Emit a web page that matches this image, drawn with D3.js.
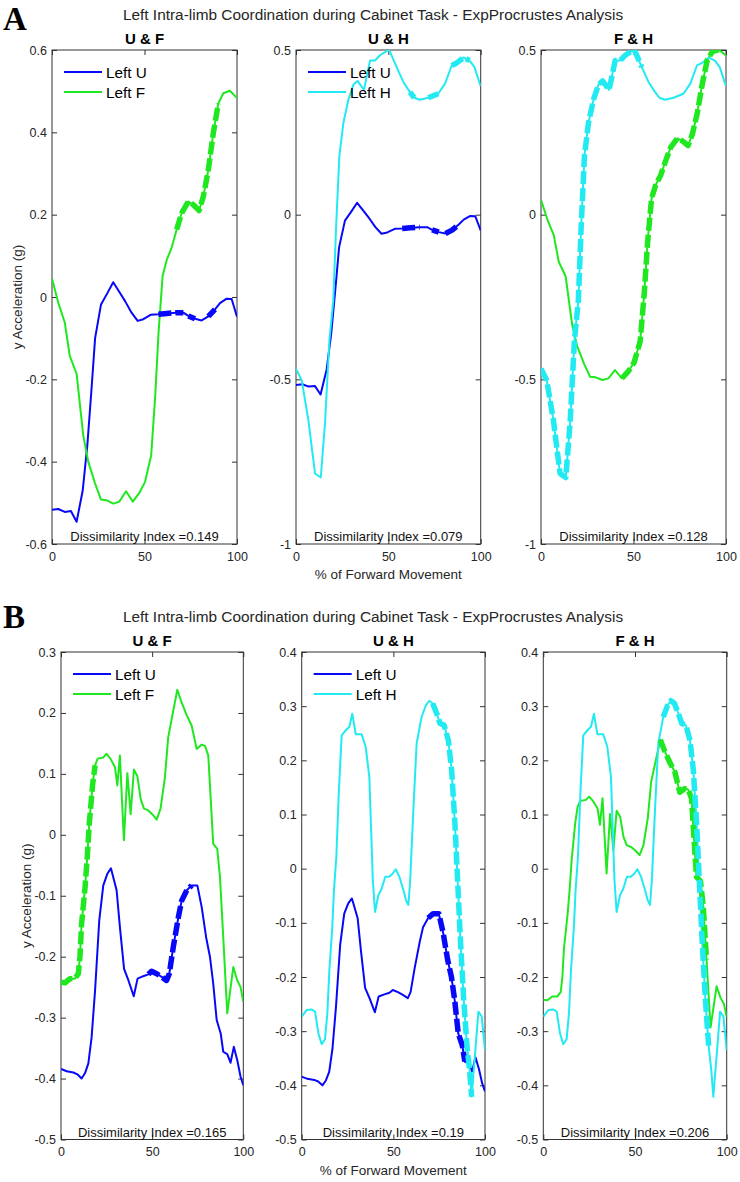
<!DOCTYPE html>
<html lang="en">
<head>
<meta charset="utf-8"/>
<style>
  body { margin: 0; background: #ffffff; }
  svg { display: block; background: #ffffff; }
  text { font-family: "Liberation Sans", Arial, sans-serif; fill: #262626; }
  .letter { font-family: "Liberation Serif", "Times New Roman", serif; font-weight: bold; font-size: 33px; fill: #000; }
  .main-title { font-size: 15.4px; }
  .sub-title { font-size: 15px; font-weight: bold; fill: #000; }
  .legend { font-size: 15.3px; fill: #000; }
  .diss { font-size: 13px; fill: #111; }
  .axis-label { font-size: 13.5px; }
</style>
</head>
<body>
<svg id="chart" width="740" height="1182"></svg>

<script src="https://cdn.jsdelivr.net/npm/d3@7"></script>
<script>
// ---- data ----
const mainTitle = "Left Intra-limb Coordination during Cabinet Task - ExpProcrustes Analysis";
const subTitles = ["U & F", "U & H", "F & H"];
const xTicks = [0, 50, 100];
const yDomainsA = [[-0.6, 0.6], [-1, 0.5], [-1, 0.5]];
const yTicksA = [[-0.6, -0.4, -0.2, 0, 0.2, 0.4, 0.6], [-1, -0.5, 0, 0.5], [-1, -0.5, 0, 0.5]];
const yDomainsB = [[-0.5, 0.3], [-0.5, 0.4], [-0.5, 0.4]];
const yTicksB = [[-0.5, -0.4, -0.3, -0.2, -0.1, 0, 0.1, 0.2, 0.3],
                 [-0.5, -0.4, -0.3, -0.2, -0.1, 0, 0.1, 0.2, 0.3, 0.4],
                 [-0.5, -0.4, -0.3, -0.2, -0.1, 0, 0.1, 0.2, 0.3, 0.4]];
const dissA = ["0.149", "0.079", "0.128"];
const dissB = ["0.165", "0.19", "0.206"];

// panel A curves [% movement, g]
const uA = [[0,-0.517],[3.4,-0.515],[6.9,-0.522],[10.2,-0.52],[13.3,-0.546],[16.6,-0.47],[19.1,-0.36],[21.5,-0.215],
  [23.3,-0.10],[26.5,-0.018],[30,0.01],[33.1,0.036],[36,0.015],[39.5,-0.01],[43,-0.038],[46.3,-0.058],[49.4,-0.054],
  [53.5,-0.043],[57.5,-0.042],[62,-0.04],[67,-0.038],[71,-0.038],[73.7,-0.046],[77.3,-0.053],[80.9,-0.057],
  [84.5,-0.047],[88.1,-0.03],[90.8,-0.015],[94.4,-0.004],[97.1,-0.005],[100,-0.048]];
const fA = [[0,0.045],[3.4,-0.014],[6.9,-0.062],[9.6,-0.143],[13.3,-0.187],[16.9,-0.336],[19.6,-0.40],[23.3,-0.453],
  [26.5,-0.492],[29.6,-0.494],[33.2,-0.502],[36.4,-0.497],[40,-0.472],[43.7,-0.497],[47.3,-0.475],[50.3,-0.449],
  [53.6,-0.385],[55.8,-0.24],[57.6,-0.086],[59,0.002],[59.8,0.051],[62,0.09],[64.7,0.12],[67.4,0.164],[70.1,0.204],
  [73.7,0.232],[76.4,0.224],[79.5,0.21],[81.8,0.244],[84.5,0.309],[87.2,0.398],[89.9,0.47],[92.6,0.495],
  [96.2,0.501],[100,0.483]];
const hA = [[0,-0.468],[3.1,-0.503],[6.7,-0.624],[10.3,-0.786],[13.4,-0.798],[15.7,-0.634],[18.1,-0.38],[20.2,-0.26],
  [21.7,-0.038],[23.5,0.18],[25.7,0.28],[28.4,0.35],[31.1,0.395],[33.3,0.406],[36.8,0.379],[40.1,0.468],[42.8,0.468],
  [45.5,0.484],[50.4,0.501],[54.5,0.448],[58.1,0.403],[61.7,0.372],[64,0.355],[67.1,0.349],[71.6,0.355],[77,0.367],
  [80.7,0.398],[84.3,0.453],[86.8,0.46],[90.8,0.477],[94,0.468],[96.6,0.448],[100,0.39]];

// panel B curves
const uB = [[0,-0.384],[3.1,-0.388],[6.8,-0.39],[9,-0.393],[11.3,-0.40],[13.2,-0.391],[15,-0.375],[16.8,-0.332],
  [18.7,-0.255],[21,-0.14],[23.2,-0.083],[25.4,-0.064],[27.4,-0.055],[30.5,-0.091],[32.3,-0.151],[34.6,-0.22],
  [37,-0.239],[38.8,-0.255],[39.9,-0.265],[42,-0.236],[45.1,-0.232],[47.9,-0.229],[49.7,-0.224],[52.5,-0.228],
  [55.2,-0.233],[57.9,-0.239],[59.4,-0.228],[61.6,-0.184],[64.4,-0.135],[66.2,-0.108],[69,-0.091],[71.7,-0.083],
  [74.8,-0.083],[77.2,-0.119],[79.6,-0.168],[81.7,-0.20],[83.5,-0.244],[85.4,-0.304],[87.6,-0.326],[89,-0.356],
  [91.2,-0.36],[93,-0.374],[94.8,-0.348],[96.7,-0.37],[98.5,-0.397],[100,-0.411]];
const fB = [[0,-0.242],[2.2,-0.243],[4.9,-0.236],[7.6,-0.236],[9.5,-0.228],[10.4,-0.2],[11.3,-0.146],[13.2,-0.086],
  [14.4,-0.037],[15.5,0.018],[17.4,0.084],[18.7,0.114],[20.1,0.125],[23.2,0.127],[25,0.133],[27.1,0.125],
  [29.6,0.111],[30.9,0.081],[32.3,0.130],[34.5,-0.009],[36.4,0.101],[38.2,0.034],[40,0.107],[41.9,0.096],
  [43.7,0.059],[45.5,0.043],[47.9,0.040],[50.3,0.033],[52.5,0.025],[54.6,0.043],[57,0.094],[58.8,0.16],
  [61.6,0.204],[63.8,0.238],[66.2,0.217],[69,0.196],[71.7,0.179],[74.4,0.141],[77.2,0.148],[79,0.146],
  [80.8,0.13],[83.5,-0.015],[85.7,-0.023],[87.2,-0.069],[89,-0.168],[91.2,-0.293],[94.5,-0.217],[96.7,-0.239],
  [98.5,-0.25],[100,-0.274]];
const hB = [[0,-0.273],[2.7,-0.261],[5.5,-0.26],[7.3,-0.264],[9.1,-0.304],[10.9,-0.324],[12.7,-0.315],[14,-0.267],
  [15.1,-0.187],[16.7,-0.107],[17.6,-0.04],[18.9,0.022],[20.3,0.145],[21.8,0.246],[24.2,0.256],[26,0.262],
  [27.6,0.286],[29.5,0.248],[32.7,0.248],[34.9,0.225],[36.9,0.169],[38.8,-0.021],[40,-0.08],[41.8,-0.049],
  [43.6,-0.037],[45.6,-0.015],[47.7,-0.015],[49.7,-0.009],[51.3,-0.001],[53.3,-0.015],[55.5,-0.04],[56.9,-0.058],
  [58.2,-0.067],[59.2,-0.021],[60.9,0.108],[62.7,0.231],[65.4,0.28],[67.8,0.302],[69.6,0.31],[71.5,0.305],
  [73.7,0.286],[75.5,0.268],[77.7,0.265],[80,0.237],[81.8,0.182],[83.6,0.083],[84.9,-0.009],[86.5,-0.126],
  [88.3,-0.237],[90.2,-0.329],[91.6,-0.372],[92.7,-0.421],[94.6,-0.341],[96.4,-0.264],[98.2,-0.273],[100,-0.335]];

// x-ranges drawn thick & dashed, per subplot
const boldA = [{U: [[57,72],[73,80],[82,89]], F: [[65,91]]},
               {U: [[57,67],[72,78],[80,90]], H: [[59,65],[68,78],[82,94]]},
               {F: [[41,97]], H: [[0,56]]}];
const boldB = [{U: [[47,74]], F: [[0,20]]},
               {U: [[67,90]], H: [[71,93.5]]},
               {F: [[63,90]], H: [[65,91]]}];

const pairs = [["U","F"], ["U","H"], ["F","H"]];
const colors = {U: "#0808f8", F: "#20e820", H: "#22eaf2"};
const names = {U: "Left U", F: "Left F", H: "Left H"};

let svg = d3.select("#chart");

function drawPanel(p) {
  svg.append("text").attr("class", "letter").attr("x", 3).attr("y", p.letterY).text(p.letter);
  svg.append("text").attr("class", "main-title").attr("x", 373).attr("y", p.titleY)
     .attr("text-anchor", "middle").text(mainTitle);

  p.xs.forEach((xr, i) => {
    let x = d3.scaleLinear().domain([0, 100]).range(xr);
    let y = d3.scaleLinear().domain(p.yDomains[i]).range([p.bottom, p.top]);
    let g = svg.append("g");
    let clipId = "clip" + p.letter + i;

    g.append("clipPath").attr("id", clipId).append("rect")
      .attr("x", xr[0]).attr("y", p.top).attr("width", xr[1] - xr[0]).attr("height", p.bottom - p.top);

    // axes, ticks inside like MATLAB "box on"
    let ticks = p.yTicks[i];
    g.append("g").attr("transform", "translate(" + xr[0] + ",0)")
      .call(d3.axisLeft(y).tickValues(ticks).tickSizeInner(-5).tickSizeOuter(0).tickPadding(5).tickFormat(d => String(d)));
    g.append("g").attr("transform", "translate(" + xr[1] + ",0)")
      .call(d3.axisRight(y).tickValues(ticks).tickSizeInner(-5).tickSizeOuter(0).tickFormat(""));
    g.append("g").attr("transform", "translate(0," + p.bottom + ")")
      .call(d3.axisBottom(x).tickValues(xTicks).tickSizeInner(-5).tickSizeOuter(0).tickPadding(8).tickFormat(d => String(d)));
    g.append("g").attr("transform", "translate(0," + p.top + ")")
      .call(d3.axisTop(x).tickValues(xTicks).tickSizeInner(-5).tickSizeOuter(0).tickFormat(""));
    g.selectAll(".domain").remove();
    g.selectAll(".tick line").attr("stroke", "#333");
    g.selectAll(".tick text").attr("font-size", 12.5).attr("font-family", "Liberation Sans, Arial, sans-serif").attr("fill", "#262626");
    g.append("rect").attr("x", xr[0]).attr("y", p.top).attr("width", xr[1] - xr[0]).attr("height", p.bottom - p.top)
      .attr("fill", "none").attr("stroke", "#333").attr("stroke-width", 1);

    let line = d3.line().x(d => x(d[0])).y(d => y(d[1]));
    let plot = g.append("g").attr("clip-path", "url(#" + clipId + ")");
    pairs[i].forEach(k => {
      plot.append("path").datum(p.curves[k]).attr("d", line)
        .attr("fill", "none").attr("stroke", colors[k]).attr("stroke-width", 2).attr("stroke-linejoin", "round");
    });
    pairs[i].forEach(k => {
      p.bold[i][k].forEach(r => {
        let seg = p.curves[k].filter(d => d[0] >= r[0] && d[0] <= r[1]);
        plot.append("path").datum(seg).attr("d", line)
          .attr("fill", "none").attr("stroke", colors[k]).attr("stroke-width", 5.5)
          .attr("stroke-dasharray", "13,4").attr("stroke-linejoin", "round");
      });
    });

    // subplot title
    g.append("text").attr("class", "sub-title").attr("x", (xr[0] + xr[1]) / 2).attr("y", p.top - 6)
      .attr("text-anchor", "middle").text(subTitles[i]);

    // dissimilarity note
    g.append("text").attr("class", "diss").attr("x", (xr[0] + xr[1]) / 2).attr("y", p.bottom - 3)
      .attr("text-anchor", "middle").text("Dissimilarity Index =" + p.diss[i]);

    // legend only on the first two subplots
    if (i < 2) {
      pairs[i].forEach((k, j) => {
        let ly = p.top + 22 + j * 20;
        g.append("line").attr("x1", xr[0] + 12).attr("x2", xr[0] + 50).attr("y1", ly).attr("y2", ly)
          .attr("stroke", colors[k]).attr("stroke-width", 2);
        g.append("text").attr("class", "legend").attr("x", xr[0] + 54).attr("y", ly).attr("dy", "0.36em").text(names[k]);
      });
    }

    if (i == 0) {
      g.append("text").attr("class", "axis-label")
        .attr("transform", "translate(" + (xr[0] - 30) + "," + ((p.top + p.bottom) / 2) + ") rotate(-90)")
        .attr("text-anchor", "middle").text("y Acceleration (g)");
    }
    if (i == 1) {
      g.append("text").attr("class", "axis-label").attr("x", (xr[0] + xr[1]) / 2).attr("y", p.bottom + 35)
        .attr("text-anchor", "middle").text("% of Forward Movement");
    }
  });
}

drawPanel({letter: "A", letterY: 30, titleY: 20, top: 50, bottom: 544,
  xs: [[52, 237], [296, 480.7], [541, 726]],
  yDomains: yDomainsA, yTicks: yTicksA, diss: dissA, bold: boldA,
  curves: {U: uA, F: fA, H: hA}});

drawPanel({letter: "B", letterY: 628, titleY: 621.5, top: 652, bottom: 1139.5,
  xs: [[61, 243.3], [301.7, 485], [543.3, 726.7]],
  yDomains: yDomainsB, yTicks: yTicksB, diss: dissB, bold: boldB,
  curves: {U: uB, F: fB, H: hB}});
</script>
</body>
</html>
